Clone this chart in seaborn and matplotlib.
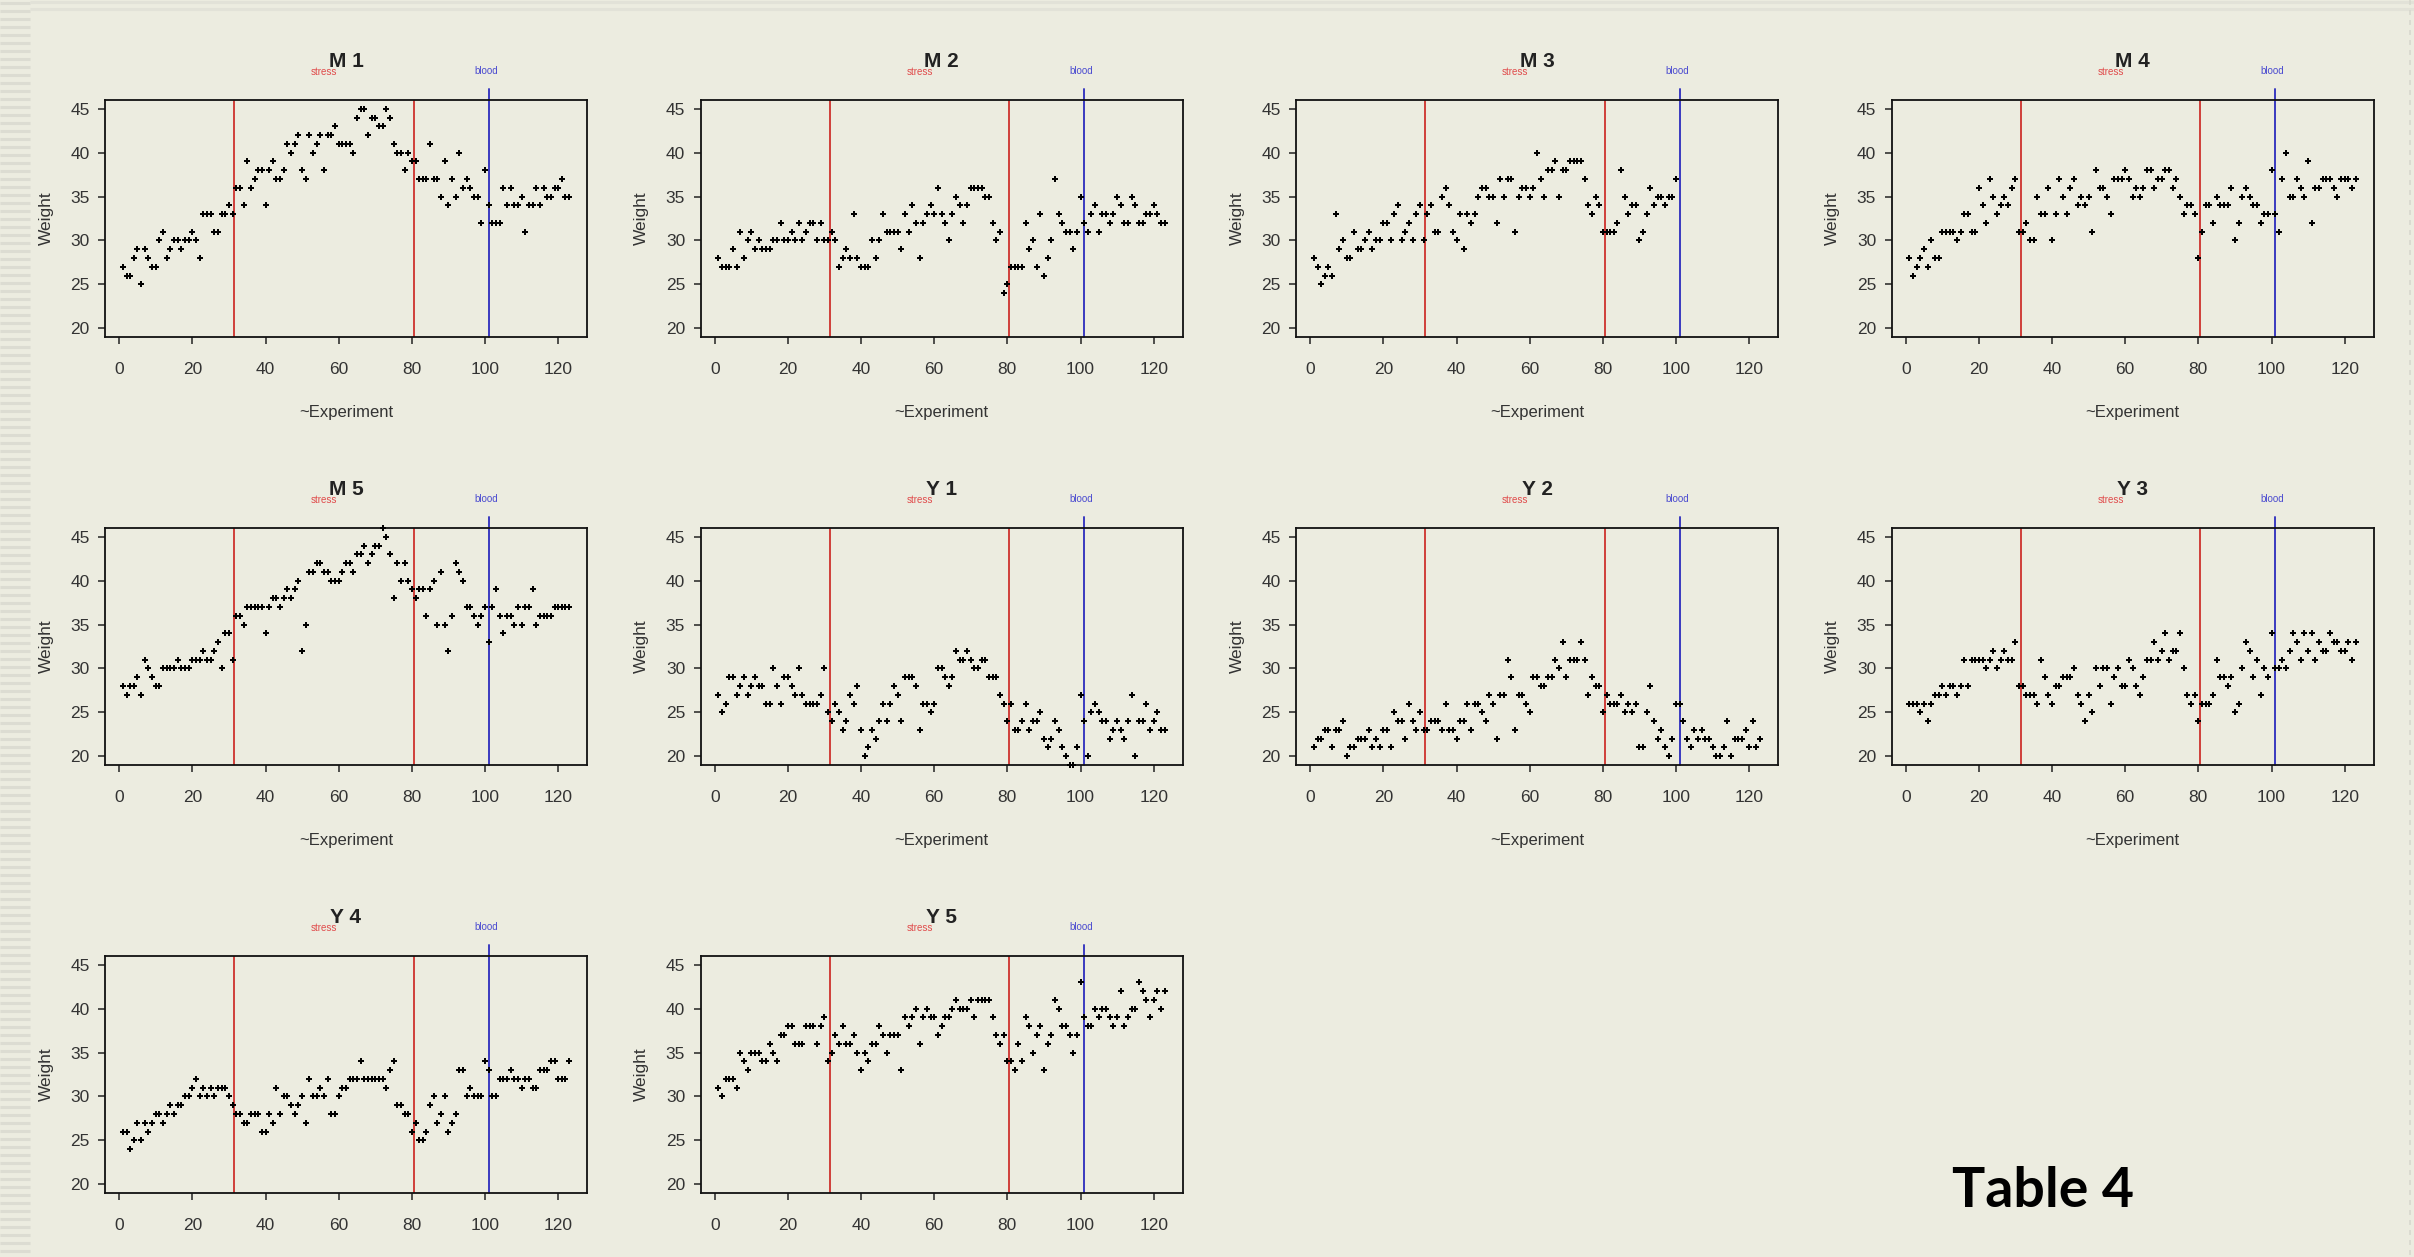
import numpy as np
import seaborn as sns
import matplotlib.pyplot as plt
from matplotlib.transforms import blended_transform_factory

# weights, one value per experiment day (x = 1, 2, 3, ...)
m1 = [27, 26, 26, 28, 29, 25, 29, 28, 27, 27, 30, 31, 28, 29, 30, 30, 29, 30, 30, 31,
      30, 28, 33, 33, 33, 31, 31, 33, 33, 34, 33, 36, 36, 34, 39, 36, 37, 38, 38, 34,
      38, 39, 37, 37, 38, 41, 40, 41, 42, 38, 37, 42, 40, 41, 42, 38, 42, 42, 43, 41,
      41, 41, 41, 40, 44, 45, 45, 42, 44, 44, 43, 43, 45, 44, 41, 40, 40, 38, 40, 39,
      39, 37, 37, 37, 41, 37, 37, 35, 39, 34, 37, 35, 40, 36, 37, 36, 35, 35, 32, 38,
      34, 32, 32, 32, 36, 34, 36, 34, 34, 35, 31, 34, 34, 36, 34, 36, 35, 35, 36, 36,
      37, 35, 35]
m2 = [28, 27, 27, 27, 29, 27, 31, 28, 30, 31, 29, 30, 29, 29, 29, 30, 30, 32, 30, 30,
      31, 30, 32, 30, 31, 32, 32, 30, 32, 30, 30, 31, 30, 27, 28, 29, 28, 33, 28, 27,
      27, 27, 30, 28, 30, 33, 31, 31, 31, 31, 29, 33, 31, 34, 32, 28, 32, 33, 34, 33,
      36, 33, 32, 30, 33, 35, 34, 32, 34, 36, 36, 36, 36, 35, 35, 32, 30, 31, 24, 25,
      27, 27, 27, 27, 32, 29, 30, 27, 33, 26, 28, 30, 37, 33, 32, 31, 31, 29, 31, 35,
      32, 31, 33, 34, 31, 33, 33, 32, 33, 35, 34, 32, 32, 35, 34, 32, 32, 33, 33, 34,
      33, 32, 32]
m3 = [28, 27, 25, 26, 27, 26, 33, 29, 30, 28, 28, 31, 29, 29, 30, 31, 29, 30, 30, 32,
      32, 30, 33, 34, 30, 31, 32, 30, 33, 34, 30, 33, 34, 31, 31, 35, 36, 34, 31, 30,
      33, 29, 33, 32, 33, 35, 36, 36, 35, 35, 32, 37, 35, 37, 37, 31, 35, 36, 36, 35,
      36, 40, 37, 35, 38, 38, 39, 35, 38, 38, 39, 39, 39, 39, 37, 34, 33, 35, 34, 31,
      31, 31, 31, 32, 38, 35, 33, 34, 34, 30, 31, 33, 36, 34, 35, 35, 34, 35, 35, 37]
m4 = [28, 26, 27, 28, 29, 27, 30, 28, 28, 31, 31, 31, 31, 30, 31, 33, 33, 31, 31, 36,
      34, 32, 37, 35, 33, 34, 35, 34, 36, 37, 31, 31, 32, 30, 30, 35, 33, 33, 36, 30,
      33, 37, 35, 33, 36, 37, 34, 35, 34, 35, 31, 38, 36, 36, 35, 33, 37, 37, 37, 38,
      37, 35, 36, 35, 36, 38, 38, 36, 37, 37, 38, 38, 36, 37, 35, 33, 34, 34, 33, 28,
      31, 34, 34, 32, 35, 34, 34, 34, 36, 30, 32, 35, 36, 35, 34, 34, 32, 33, 33, 38,
      33, 31, 37, 40, 35, 35, 37, 36, 35, 39, 32, 36, 36, 37, 37, 37, 36, 35, 37, 37,
      37, 36, 37]
m5 = [28, 27, 28, 28, 29, 27, 31, 30, 29, 28, 28, 30, 30, 30, 30, 31, 30, 30, 30, 31,
      31, 31, 32, 31, 31, 32, 33, 30, 34, 34, 31, 36, 36, 35, 37, 37, 37, 37, 37, 34,
      37, 38, 38, 37, 38, 39, 38, 39, 40, 32, 35, 41, 41, 42, 42, 41, 41, 40, 40, 40,
      41, 42, 42, 41, 43, 43, 44, 42, 43, 44, 44, 46, 45, 43, 38, 42, 40, 42, 40, 39,
      38, 39, 39, 36, 39, 40, 35, 41, 35, 32, 36, 42, 41, 40, 37, 37, 36, 35, 36, 37,
      33, 37, 39, 36, 34, 36, 36, 35, 37, 35, 37, 37, 39, 35, 36, 36, 36, 36, 37, 37,
      37, 37, 37]
y1 = [27, 25, 26, 29, 29, 27, 28, 29, 27, 28, 29, 28, 28, 26, 26, 30, 28, 26, 29, 29,
      28, 27, 30, 27, 26, 26, 26, 26, 27, 30, 25, 24, 26, 25, 23, 24, 27, 26, 28, 23,
      20, 21, 23, 22, 24, 26, 24, 26, 28, 27, 24, 29, 29, 29, 28, 23, 26, 26, 25, 26,
      30, 30, 29, 28, 29, 32, 31, 31, 32, 31, 30, 30, 31, 31, 29, 29, 29, 27, 26, 24,
      26, 23, 23, 24, 26, 23, 24, 24, 25, 22, 21, 22, 24, 23, 21, 20, 19, 19, 21, 27,
      24, 20, 25, 26, 25, 24, 24, 22, 23, 24, 23, 22, 24, 27, 20, 24, 24, 26, 23, 24,
      25, 23, 23]
y2 = [21, 22, 22, 23, 23, 21, 23, 23, 24, 20, 21, 21, 22, 22, 22, 23, 21, 22, 21, 23,
      23, 21, 25, 24, 24, 22, 26, 24, 23, 25, 23, 23, 24, 24, 24, 23, 26, 23, 23, 22,
      24, 24, 26, 23, 26, 26, 25, 24, 27, 26, 22, 27, 27, 31, 29, 23, 27, 27, 26, 25,
      29, 29, 28, 28, 29, 29, 31, 30, 33, 29, 31, 31, 31, 33, 31, 27, 29, 28, 28, 25,
      27, 26, 26, 26, 27, 25, 26, 25, 26, 21, 21, 25, 28, 24, 22, 23, 21, 20, 22, 26,
      26, 24, 22, 21, 23, 22, 23, 22, 22, 21, 20, 20, 21, 24, 20, 22, 22, 22, 23, 21,
      24, 21, 22]
y3 = [26, 26, 26, 25, 26, 24, 26, 27, 27, 28, 27, 28, 28, 27, 28, 31, 28, 31, 31, 31,
      31, 30, 31, 32, 30, 31, 32, 31, 31, 33, 28, 28, 27, 27, 27, 26, 31, 29, 27, 26,
      28, 28, 29, 29, 29, 30, 27, 26, 24, 27, 25, 30, 28, 30, 30, 26, 29, 30, 28, 28,
      31, 30, 28, 27, 29, 31, 31, 33, 31, 32, 34, 31, 32, 32, 34, 30, 27, 26, 27, 24,
      26, 26, 26, 27, 31, 29, 29, 28, 29, 25, 26, 30, 33, 32, 29, 31, 27, 30, 29, 34,
      30, 30, 31, 30, 32, 34, 33, 31, 34, 32, 34, 31, 33, 32, 32, 34, 33, 33, 32, 32,
      33, 31, 33]
y4 = [26, 26, 24, 25, 27, 25, 27, 26, 27, 28, 28, 27, 28, 29, 28, 29, 29, 30, 30, 31,
      32, 30, 31, 30, 31, 30, 31, 31, 31, 30, 29, 28, 28, 27, 27, 28, 28, 28, 26, 26,
      28, 27, 31, 28, 30, 30, 29, 28, 29, 30, 27, 32, 30, 30, 31, 30, 32, 28, 28, 30,
      31, 31, 32, 32, 32, 34, 32, 32, 32, 32, 32, 32, 31, 33, 34, 29, 29, 28, 28, 26,
      27, 25, 25, 26, 29, 30, 27, 28, 30, 26, 27, 28, 33, 33, 30, 31, 30, 30, 30, 34,
      33, 30, 30, 32, 32, 32, 33, 32, 32, 31, 32, 32, 31, 31, 33, 33, 33, 34, 34, 32,
      32, 32, 34]
y5 = [31, 30, 32, 32, 32, 31, 35, 34, 33, 35, 35, 35, 34, 34, 36, 35, 34, 37, 37, 38,
      38, 36, 36, 36, 38, 38, 38, 36, 38, 39, 34, 35, 37, 36, 38, 36, 36, 37, 35, 33,
      35, 34, 36, 36, 38, 37, 35, 37, 37, 37, 33, 39, 38, 39, 40, 36, 39, 40, 39, 39,
      37, 38, 39, 39, 40, 41, 40, 40, 40, 41, 39, 41, 41, 41, 41, 39, 37, 36, 37, 34,
      34, 33, 36, 34, 39, 38, 35, 37, 38, 33, 36, 37, 41, 40, 38, 38, 37, 35, 37, 43,
      39, 38, 38, 40, 39, 40, 40, 39, 38, 39, 42, 38, 39, 40, 40, 43, 42, 41, 39, 41,
      42, 40, 42]

panel_names = ["M 1", "M 2", "M 3", "M 4", "M 5", "Y 1", "Y 2", "Y 3", "Y 4", "Y 5"]
panel_data = [m1, m2, m3, m4, m5, y1, y2, y3, y4, y5]
stress_days = [31.5, 80.5]
blood_day = 101
x_ticks = [0, 20, 40, 60, 80, 100, 120]
y_ticks = [20, 25, 30, 35, 40, 45]

sns.set_style("ticks")
plt.rcParams['font.family'] = ['Liberation Sans Narrow', 'Liberation Sans', 'DejaVu Sans']

W, H = 2414, 1257
bg = '#ecece0'
fig = plt.figure(figsize=(W / 100, H / 100), dpi=100, facecolor=bg)

# slide decoration: striped strips on the left and top edges
deco = fig.add_axes([0, 0, 1, 1], zorder=-5)
deco.set_xlim(0, W)
deco.set_ylim(H, 0)
deco.axis('off')
deco.hlines(np.arange(3, H, 8), 0, 30, color='#dcdcd2', lw=2.2)
deco.hlines([2, 9], 30, W, color='#e2e2d8', lw=2.2)
deco.vlines(W - 4, 0, H, color='#d8d8ce', lw=1.2, linestyles=(0, (3, 3)))

ax_w, ax_h = 482, 237
for i, (name, weights) in enumerate(zip(panel_names, panel_data)):
    r, c = divmod(i, 4)
    left = 105 + 595.5 * c
    top = 100 + 428 * r
    ax = fig.add_axes([left / W, 1 - (top + ax_h) / H, ax_w / W, ax_h / H])
    ax.set_facecolor('none')
    experiment = np.arange(1, len(weights) + 1)
    sns.scatterplot(x=experiment, y=weights, ax=ax, color='black', marker='P',
                    s=16, linewidth=0, zorder=3, clip_on=False)
    # stress periods (red) and blood sampling (blue)
    for d in stress_days:
        ax.axvline(d, color='#d03f3a', lw=1.4, zorder=2)
    ax.axvline(blood_day, ymax=1.046, color='#3a3ac0', lw=1.4, zorder=2, clip_on=False)
    tr = blended_transform_factory(ax.transData, ax.transAxes)
    ax.text(56, 1.118, 'stress', transform=tr, color='#e04a4a', fontsize=7,
            ha='center', va='center')
    ax.text(100.2, 1.122, 'blood', transform=tr, color='#4a4ad0', fontsize=7,
            ha='center', va='center')
    ax.set_title(name, fontweight='bold', fontsize=15, pad=24, color='#222222')
    ax.set_xlim(-3.88, 127.88)
    ax.set_ylim(19, 46)
    ax.set_xticks(x_ticks)
    ax.set_yticks(y_ticks)
    ax.tick_params(axis='both', direction='out', length=5, width=1.1,
                   labelsize=12.5, color='#222222', labelcolor='#333333')
    ax.tick_params(axis='x', pad=13)
    ax.tick_params(axis='y', pad=6)
    ax.set_xlabel('~Experiment', fontsize=12, labelpad=20, color='#333333')
    ax.set_ylabel('Weight', fontsize=12.5, labelpad=12, color='#333333')
    for sp in ax.spines.values():
        sp.set_visible(True)
        sp.set_linewidth(1.3)
        sp.set_color('#111111')

fig.text(2043 / W, 1 - 1191 / H, 'Table 4', fontsize=40, fontweight='bold',
         family=['Lato', 'DejaVu Sans'], ha='center', va='center', color='black')

fig.savefig('out.png', dpi=100, facecolor=bg)
